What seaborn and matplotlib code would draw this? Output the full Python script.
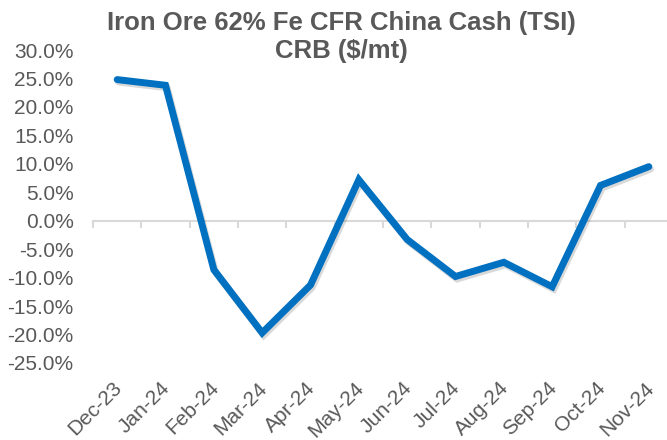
import matplotlib
matplotlib.use("Agg")
import matplotlib.pyplot as plt
import matplotlib.patheffects as pe
import matplotlib.transforms as mtransforms
from matplotlib.ticker import FuncFormatter, FixedLocator
import seaborn as sns
import pandas as pd

months = ["Dec-23", "Jan-24", "Feb-24", "Mar-24", "Apr-24", "May-24",
          "Jun-24", "Jul-24", "Aug-24", "Sep-24", "Oct-24", "Nov-24"]
change_pct = [24.8, 23.8, -8.6, -19.7, -11.3, 7.2, -3.3, -9.8, -7.3, -11.6, 6.2, 9.5]
title_lines = ["Iron Ore 62% Fe CFR China Cash (TSI)", "CRB ($/mt)"]

sns.set_theme(style="white")
plt.rcParams["font.family"] = ["Liberation Sans", "DejaVu Sans"]

text_color = "#595959"
line_color = "#0070C0"
axis_color = "#D9D9D9"

df = pd.DataFrame({"month": months, "change": change_pct})

fig = plt.figure(figsize=(6.67, 4.40), dpi=100)
ax = fig.add_axes([93 / 667, (440 - 363) / 440, 580 / 667, (363 - 50) / 440])

sns.lineplot(data=df, x="month", y="change", sort=False, ax=ax,
             color=line_color, linewidth=5.0,
             path_effects=[pe.SimpleLineShadow(offset=(1.2, -1.8), alpha=0.15, shadow_color="black"),
                           pe.Normal()])
ax.lines[0].set_solid_joinstyle("miter")
ax.lines[0].set_solid_capstyle("round")
ax.lines[0].set_zorder(5)

ax.set_xlim(-0.5, len(months) - 0.5)
ax.set_ylim(-25, 30)
ax.set_yticks([-25, -20, -15, -10, -5, 0, 5, 10, 15, 20, 25, 30])
ax.yaxis.set_major_formatter(FuncFormatter(lambda v, p: f"{v:.1f}%"))
ax.set_xlabel("")
ax.set_ylabel("")

for s in ax.spines.values():
    s.set_visible(False)

ax.tick_params(axis="y", length=0, pad=14, labelsize=15, labelcolor=text_color)
ax.tick_params(axis="x", length=0, pad=11, labelsize=15, labelcolor=text_color)
shift = mtransforms.ScaledTranslation(-5 / 100, 0, fig.dpi_scale_trans)
for lab in ax.get_xticklabels():
    lab.set_rotation(45)
    lab.set_ha("right")
    lab.set_va("top")
    lab.set_rotation_mode("anchor")
    lab.set_transform(lab.get_transform() + shift)

# zero axis with tick marks between categories
zero_frac = (0 - (-25)) / (30 - (-25))
sec = ax.secondary_xaxis(zero_frac)
sec.spines["bottom"].set_color(axis_color)
sec.spines["bottom"].set_linewidth(1.5)
sec.xaxis.set_major_locator(FixedLocator([i - 0.5 for i in range(len(months) + 1)]))
sec.tick_params(axis="x", direction="out", length=5, width=1.5, color=axis_color,
                labelbottom=False)
sec.set_xticklabels([])

fig.text(341 / 667, 1 - 23 / 440, title_lines[0], ha="center", va="center",
         fontsize=18.5, fontweight="bold", color=text_color)
fig.text(341 / 667, 1 - 51 / 440, title_lines[1], ha="center", va="center",
         fontsize=18.5, fontweight="bold", color=text_color)

fig.savefig("out.png", dpi=100)
